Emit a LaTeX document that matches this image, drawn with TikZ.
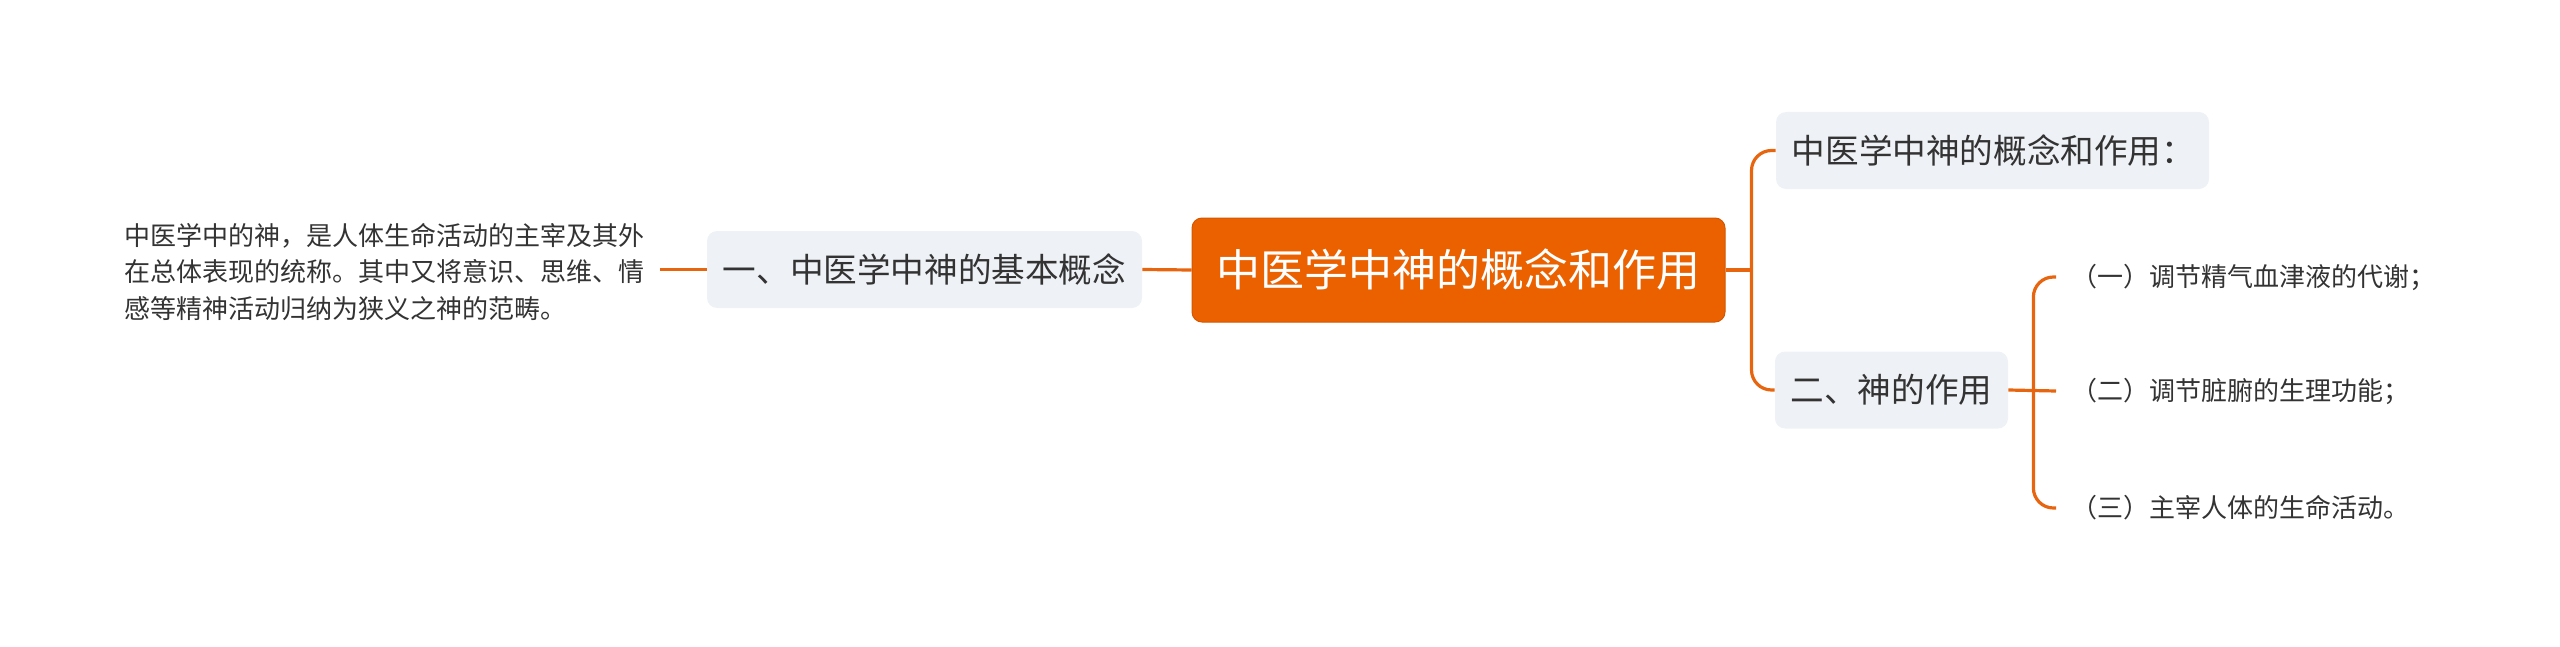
\documentclass[tikz,border=0pt]{standalone}
\usepackage{fontspec}
\newfontfamily\cjk{Noto Sans CJK SC}
\definecolor{brand}{HTML}{EB6100}
\definecolor{linkc}{HTML}{E8650F}
\definecolor{boxfill}{HTML}{EEF1F5}
\definecolor{ink}{HTML}{333333}
\begin{document}
\begin{tikzpicture}[x=0.5pt,y=-0.5pt,
  hub/.style={fill=brand,draw=brand!90!black,line width=0.5pt,rounded corners=5pt,text=white,
    font={\cjk\fontsize{22pt}{26pt}\selectfont},minimum width=266.5pt,minimum height=52pt,inner sep=0pt},
  graynode/.style={fill=boxfill,rounded corners=5pt,text=ink,
    font={\cjk\fontsize{16.8pt}{20pt}\selectfont},minimum height=38.5pt,inner sep=0pt},
  leaf/.style={text=ink,font={\cjk\fontsize{13pt}{18.25pt}\selectfont},inner xsep=7.5pt,inner ysep=0pt,anchor=west},
  note/.style={text=ink,font={\cjk\fontsize{13pt}{18.25pt}\selectfont},inner sep=0pt,anchor=west,align=left},
  link/.style={draw=linkc,line width=1.6pt,rounded corners=10pt}
]
\useasboundingbox (0,0) rectangle (2560,647);

\node[hub] (c) at (1458.5,270) {中医学中神的概念和作用};
\node[graynode,minimum width=217.5pt] (n1) at (924.5,269.5) {一、中医学中神的基本概念};
\node[graynode,minimum width=216.5pt] (t1) at (1992.5,150.5) {\hspace*{1pt}中医学中神的概念和作用：};
\node[graynode,minimum width=116.5pt] (t2) at (1891.5,390) {二、神的作用};

\node[note] (txt) at (124,272) {中医学中的神，是人体生命活动的主宰及其外\\在总体表现的统称。其中又将意识、思维、情\\感等精神活动归纳为狭义之神的范畴。};

\node[leaf] (k1) at (2056,277) {（一）调节精气血津液的代谢；};
\node[leaf] (k2) at (2056,391) {（二）调节脏腑的生理功能；};
\node[leaf] (k3) at (2056,508) {（三）主宰人体的生命活动。};

\coordinate (j1) at ([xshift=13pt]c.east);
\coordinate (j2) at ([xshift=12.5pt]t2.east);

\draw[link] (n1.west) -- ++(-47,0);
\draw[link] (n1.east) -- (c.west);
\draw[link] (c.east) -- (j1);
\draw[link] (t1.west) -| (j1) |- (t2.west);
\draw[link] (t2.east) -- (k2.west);
\draw[link] (k1.west) -| (j2) |- (k3.west);
\end{tikzpicture}
\end{document}
